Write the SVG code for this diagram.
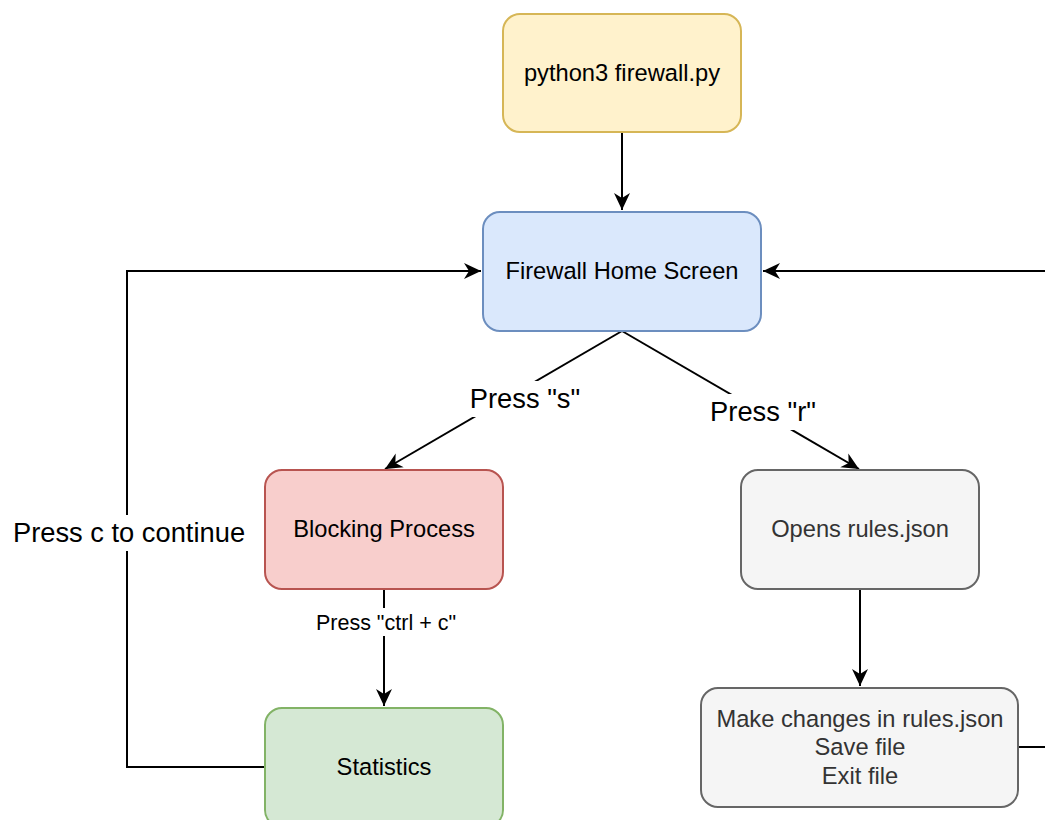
<svg xmlns="http://www.w3.org/2000/svg" width="1045" height="820" viewBox="0 0 1045 820">
<style>
.node{stroke-width:2}
.t{font-family:"Liberation Sans",Arial,sans-serif;font-size:23.7px;text-anchor:middle;fill:#000}
.lbl{font-family:"Liberation Sans",Arial,sans-serif;font-size:27.3px;text-anchor:middle;fill:#000}
.lbls{font-family:"Liberation Sans",Arial,sans-serif;font-size:21.5px;text-anchor:middle;fill:#000}
.e{fill:none;stroke:#000;stroke-width:2}
.bg{fill:#fff}
</style>
<defs>
<marker id="arr" markerUnits="userSpaceOnUse" markerWidth="18" markerHeight="18" viewBox="0 0 18 18" refX="17" refY="9" orient="auto">
<path d="M0,1 L17,9 L0,17 L5,9 Z" fill="#000"/>
</marker>
</defs>
<rect width="1045" height="820" fill="#fff"/>
<g id="connectors">
<path class="e" d="M622,132 L622,210" marker-end="url(#arr)"/>
<path class="e" d="M622,331 L385,469" marker-end="url(#arr)"/>
<path class="e" d="M622,331 L859,469" marker-end="url(#arr)"/>
<path class="e" d="M384,589 L384,706" marker-end="url(#arr)"/>
<path class="e" d="M860,589 L860,686" marker-end="url(#arr)"/>
<path class="e" d="M265,767 L127,767 L127,271 L481,271" marker-end="url(#arr)"/>
<path class="e" d="M1018,747 L1050,747 L1050,271 L763,271" marker-end="url(#arr)"/>
<rect class="bg" x="467" y="381" width="116" height="36"/>
<text class="lbl" x="525" y="408">Press "s"</text>
<rect class="bg" x="706" y="394" width="114" height="36"/>
<text class="lbl" x="763" y="421">Press "r"</text>
<rect class="bg" x="313" y="608" width="148" height="28"/>
<text class="lbls" x="386" y="630">Press "ctrl + c"</text>
<rect class="bg" x="10" y="515" width="238" height="36"/>
<text class="lbl" x="129" y="542">Press c to continue</text>
</g>
<g id="start">
<rect class="node" x="503" y="14" width="238" height="118" rx="17" fill="#fff2cc" stroke="#d6b656"/>
<text class="t" x="622" y="81">python3 firewall.py</text>
</g>
<g id="home">
<rect class="node" x="483" y="212" width="278" height="119" rx="17" fill="#dae8fc" stroke="#6c8ebf"/>
<text class="t" x="622" y="279">Firewall Home Screen</text>
</g>
<g id="blocking">
<rect class="node" x="265" y="470" width="238" height="119" rx="17" fill="#f8cecc" stroke="#b85450"/>
<text class="t" x="384" y="537">Blocking Process</text>
</g>
<g id="statistics">
<rect class="node" x="265" y="708" width="238" height="119" rx="17" fill="#d5e8d4" stroke="#82b366"/>
<text class="t" x="384" y="775">Statistics</text>
</g>
<g id="opens">
<rect class="node" x="741" y="470" width="238" height="119" rx="17" fill="#f5f5f5" stroke="#666666"/>
<text class="t" x="860" y="537" style="fill:#333333">Opens rules.json</text>
</g>
<g id="changes">
<rect class="node" x="701" y="688" width="317" height="119" rx="17" fill="#f5f5f5" stroke="#666666"/>
<text class="t" x="860" y="727" style="fill:#333333">Make changes in rules.json</text>
<text class="t" x="860" y="755" style="fill:#333333">Save file</text>
<text class="t" x="860" y="784" style="fill:#333333">Exit file</text>
</g>
</svg>
